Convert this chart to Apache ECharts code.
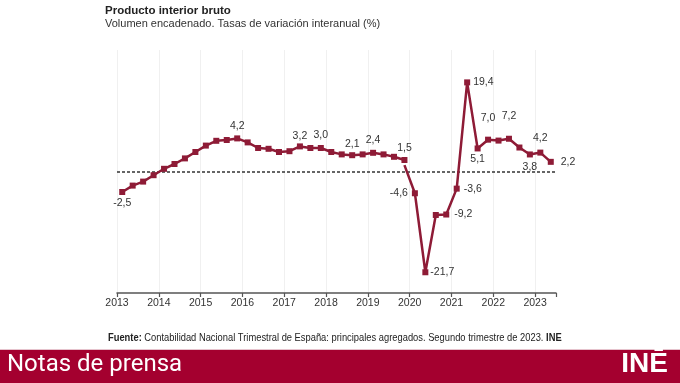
<!DOCTYPE html>
<html><head><meta charset="utf-8">
<script src="https://cdn.jsdelivr.net/npm/echarts@6/dist/echarts.min.js"></script>
<style>html,body{margin:0;padding:0;background:#fff}#c{width:680px;height:383px}</style>
</head><body><div id="c"></div>
<script>
// ---- data ----
const years = ['2013','2014','2015','2016','2017','2018','2019','2020','2021','2022','2023'];
const quarterNames = ['T1','T2','T3','T4'];
const lastQuarter = '2023T2';
// 2013T1 - 2019T4 (plotted on the upper-scale axis of the original)
const values2013to2019 = [-2.5,-1.7,-1.2,-0.4, 0.4,1.0,1.7,2.5, 3.3,3.9,4.0,4.2, 3.7,3.0,2.9,2.5, 2.6,3.2,3.0,3.0, 2.5,2.2,2.1,2.2, 2.4,2.2,1.9,1.5];
// 2020T1 - 2023T2
const values2020to2023 = [-4.6,-21.7,-9.3,-9.2, -3.6,19.4,5.1,7.0, 6.8,7.2,5.3,3.8, 4.2,2.2];

// ---- styles (label placement per quarter) ----
const labelPlacement = {
  '2013T1':['bottom',3], '2015T4':['top',4], '2017T2':['top',2], '2017T4':['top',4],
  '2018T3':['top',3], '2019T1':['top',4], '2019T4':['top',3],
  '2020T1':['left',4], '2020T2':['right',2], '2020T4':['right',5], '2021T1':['right',4],
  '2021T2':['right',3], '2021T3':['bottom',2], '2021T4':['top',13], '2022T2':['top',14],
  '2022T4':['bottom',4], '2023T1':['top',6], '2023T2':['right',7]
};

const quarters = [];
for (const y of years) for (const q of quarterNames) { if (quarters.length && quarters[quarters.length-1] === lastQuarter) break; quarters.push(y + q); }

const RED = '#8E1B36';
const fmt = v => v.toFixed(1).replace('.', ',');
function item(idx, v, hideSymbol) {
  const q = quarters[idx];
  const d = { name: q, value: [idx + 0.5, v] };
  const lp = labelPlacement[q];
  if (lp && !hideSymbol) d.label = { show: true, position: lp[0], distance: lp[1] };
  if (hideSymbol) { d.symbolSize = 0; d.label = { show: false }; }
  return d;
}
const n1 = values2013to2019.length;
const dataA = values2013to2019.map((v, i) => item(i, v));
const dataB = [item(n1 - 1, values2013to2019[n1 - 1], true)].concat(values2020to2023.map((v, j) => item(n1 + j, v)));

const labelStyle = { show: false, color: '#333', fontSize: 10.5, fontFamily: 'Liberation Sans, Arial, sans-serif', formatter: p => fmt(p.value[1]) };

const chart = echarts.init(document.getElementById('c'), null, { renderer: 'canvas' });
chart.setOption({
  animation: false,
  backgroundColor: '#fff',
  title: {
    text: 'Producto interior bruto',
    subtext: 'Volumen encadenado. Tasas de variación interanual (%)',
    left: 100, top: 0, itemGap: 1,
    textStyle: { fontSize: 11.5, fontWeight: 'bold', color: '#222', fontFamily: 'Liberation Sans, Arial, sans-serif' },
    subtextStyle: { fontSize: 11, color: '#333', fontFamily: 'Liberation Sans, Arial, sans-serif' }
  },
  grid: { left: 117, right: 124, top: 50, bottom: 90 },
  xAxis: {
    type: 'value', min: 0, max: quarters.length, interval: 4,
    axisLine: { show: true, onZero: false, lineStyle: { color: '#555', width: 1.5 } },
    axisTick: { show: true, length: 4, lineStyle: { color: '#555', width: 1.2 } },
    splitLine: { show: true, showMaxLine: false, lineStyle: { color: '#f0f0f0', width: 1 } },
    axisLabel: {
      margin: 5, color: '#333', fontSize: 10.5, fontFamily: 'Liberation Sans, Arial, sans-serif',
      formatter: v => (v % 4 === 0 && years[v / 4]) ? years[v / 4] : ''
    }
  },
  yAxis: [
    { type: 'value', show: false, min: -15.125, max: 15.25, splitLine: { show: false } },
    { type: 'value', show: false, min: -26.19, max: 26.41, splitLine: { show: false } }
  ],
  series: [
    {
      type: 'line', yAxisIndex: 0, data: dataA, symbol: 'rect', symbolSize: 6,
      lineStyle: { color: RED, width: 2.5 }, itemStyle: { color: RED }, label: labelStyle, z: 3
    },
    {
      type: 'line', yAxisIndex: 1, data: dataB, symbol: 'rect', symbolSize: 6,
      lineStyle: { color: RED, width: 2.5 }, itemStyle: { color: RED }, label: labelStyle, z: 3,
      markLine: {
        silent: true, symbol: 'none', label: { show: false },
        lineStyle: { color: '#333', type: [3, 2], width: 1.5 },
        data: [{ yAxis: 0 }], z: 1
      }
    }
  ],
  graphic: [
    { type: 'text', x: 108, y: 333, scaleX: 0.89,
      style: { text: '{b|Fuente:} Contabilidad Nacional Trimestral de España: principales agregados. Segundo trimestre de 2023. {b|INE}',
        fill: '#222', font: '10.5px "Liberation Sans", Arial, sans-serif',
        rich: { b: { fontWeight: 'bold', fontFamily: '"Liberation Sans", Arial, sans-serif', fontSize: 10.5, fill: '#222' } } } },
    { type: 'rect', shape: { x: 0, y: 349, width: 680, height: 1 }, style: { fill: '#e6c3cd' } },
    { type: 'rect', shape: { x: 0, y: 350, width: 680, height: 33 }, style: { fill: '#A4002F' } },
    { type: 'text', left: 7, top: 353, style: { text: 'Notas de prensa', fill: '#fff', font: '24px Roboto, "Liberation Sans", sans-serif' } },
    { type: 'text', right: 12, top: 350, style: { text: 'INĒ', fill: '#fff', font: 'bold 28px "Liberation Sans", Arial, sans-serif' } }
  ]
});
</script>
</body></html>
